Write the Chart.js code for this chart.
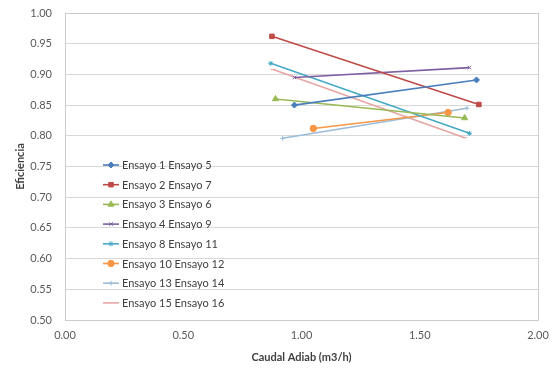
<!DOCTYPE html>
<html>
<head>
<meta charset="utf-8">
<script src="https://cdn.jsdelivr.net/npm/chart.js@4/dist/chart.umd.min.js"></script>
<style>
html,body{margin:0;padding:0;background:#fff;}
#wrap{width:555px;height:369px;}
</style>
</head>
<body>
<div id="wrap"><canvas id="c" width="555" height="369"></canvas></div>
<script>
const seriesNames = ["Ensayo 1 Ensayo 5","Ensayo 2 Ensayo 7","Ensayo 3 Ensayo 6","Ensayo 4 Ensayo 9","Ensayo 8 Ensayo 11","Ensayo 10 Ensayo 12","Ensayo 13 Ensayo 14","Ensayo 15 Ensayo 16"];
const caudal = [
  [0.97, 1.74],
  [0.875, 1.75],
  [0.89, 1.69],
  [0.97, 1.71],
  [0.87, 1.71],
  [1.05, 1.62],
  [0.92, 1.70],
  [0.88, 1.69]
];
const eficiencia = [
  [0.850, 0.891],
  [0.962, 0.851],
  [0.860, 0.829],
  [0.895, 0.911],
  [0.918, 0.804],
  [0.812, 0.838],
  [0.796, 0.845],
  [0.908, 0.797]
];
const xTicks = [0, 0.5, 1.0, 1.5, 2.0];
const yTicks = [0.50,0.55,0.60,0.65,0.70,0.75,0.80,0.85,0.90,0.95,1.00];

const colors = ["#4A7EBB","#BE4B48","#98B954","#7D60A0","#46AAC5","#F79646","#9BBBD9","#E6A5A4"];
const styles = ["rectRot","rect","triangle","crossRot","star","circle","cross","line"];
const radii = [3,3.2,3.5,2.5,2.5,3.2,2.5,2.5];

const datasets = seriesNames.map((n,i)=>({
  label:n,
  data: caudal[i].map((x,j)=>({x:x,y:eficiencia[i][j]})),
  showLine:true,
  borderColor:colors[i],
  backgroundColor:colors[i],
  borderWidth:1.6,
  pointStyle:styles[i],
  pointRadius:radii[i],
  pointBorderWidth:1,
  pointBorderColor:colors[i],
  pointBackgroundColor:colors[i]
}));

const FONT = "Lato, 'Liberation Sans', sans-serif";

const frame = {
  id:'frame',
  beforeDatasetsDraw(chart){
    const {ctx, chartArea:a} = chart;
    ctx.save();
    ctx.strokeStyle = '#cccccc';
    ctx.lineWidth = 1;
    ctx.strokeRect(Math.round(a.left)+0.5, Math.round(a.top)+0.5, Math.round(a.right-a.left), Math.round(a.bottom-a.top));
    ctx.restore();
  }
};

const legendInside = {
  id:'legendInside',
  afterDatasetsDraw(chart){
    const ctx = chart.ctx;
    ctx.save();
    const x0 = 103, y0 = 165, step = 19.7;
    chart.data.datasets.forEach((ds,i)=>{
      const y = y0 + i*step;
      ctx.strokeStyle = ds.borderColor;
      ctx.lineWidth = 1.6;
      ctx.beginPath(); ctx.moveTo(x0, y); ctx.lineTo(x0+16, y); ctx.stroke();
      if (ds.pointStyle !== 'line') {
        ctx.fillStyle = ds.backgroundColor;
        ctx.strokeStyle = ds.borderColor;
        ctx.lineWidth = 1;
        Chart.helpers.drawPoint(ctx, {pointStyle: ds.pointStyle, radius: ds.pointRadius, rotation:0, borderWidth:1}, x0+8, y);
      }
      ctx.fillStyle = '#404040';
      ctx.font = "11px " + FONT;
      ctx.textBaseline = 'middle';
      ctx.textAlign = 'left';
      ctx.fillText(ds.label, x0+19, y+0.5);
    });
    ctx.restore();
  }
};

function zeroPad(s){ s.paddingLeft = 0; s.paddingRight = 0; s.paddingTop = 0; s.paddingBottom = 0; }

new Chart(document.getElementById('c'), {
  type:'scatter',
  data:{datasets},
  plugins:[frame, legendInside],
  options:{
    responsive:false,
    animation:false,
    devicePixelRatio:1,
    layout:{padding:{left:0,right:17,top:13,bottom:5}},
    plugins:{legend:{display:false}, tooltip:{enabled:false}},
    scales:{
      x:{
        type:'linear', min:0, max:2,
        afterBuildTicks(s){ s.ticks = xTicks.map(v=>({value:v})); },
        afterFit(s){ s.height = 44; zeroPad(s); },
        grid:{display:false, drawTicks:false},
        border:{display:false},
        ticks:{color:'#595959', font:{family:FONT,size:11}, padding:9, maxRotation:0, callback:v=>Number(v).toFixed(2)},
        title:{display:true, text:'Caudal Adiab (m3/h)', color:'#404040', font:{family:FONT,size:11,weight:'bold'}, padding:{top:6,bottom:0}}
      },
      y:{
        type:'linear', min:0.5, max:1.0,
        afterBuildTicks(s){ s.ticks = yTicks.map(v=>({value:v})); },
        afterFit(s){ s.width = 65; zeroPad(s); },
        grid:{color:'#d8d8d8', drawTicks:false, lineWidth:1},
        border:{display:false},
        ticks:{color:'#595959', font:{family:FONT,size:11}, padding:13, callback:v=>Number(v).toFixed(2)},
        title:{display:true, text:'Eficiencia', color:'#404040', font:{family:FONT,size:11,weight:'bold'}, padding:{top:14,bottom:0}}
      }
    }
  }
});
</script>
</body>
</html>
